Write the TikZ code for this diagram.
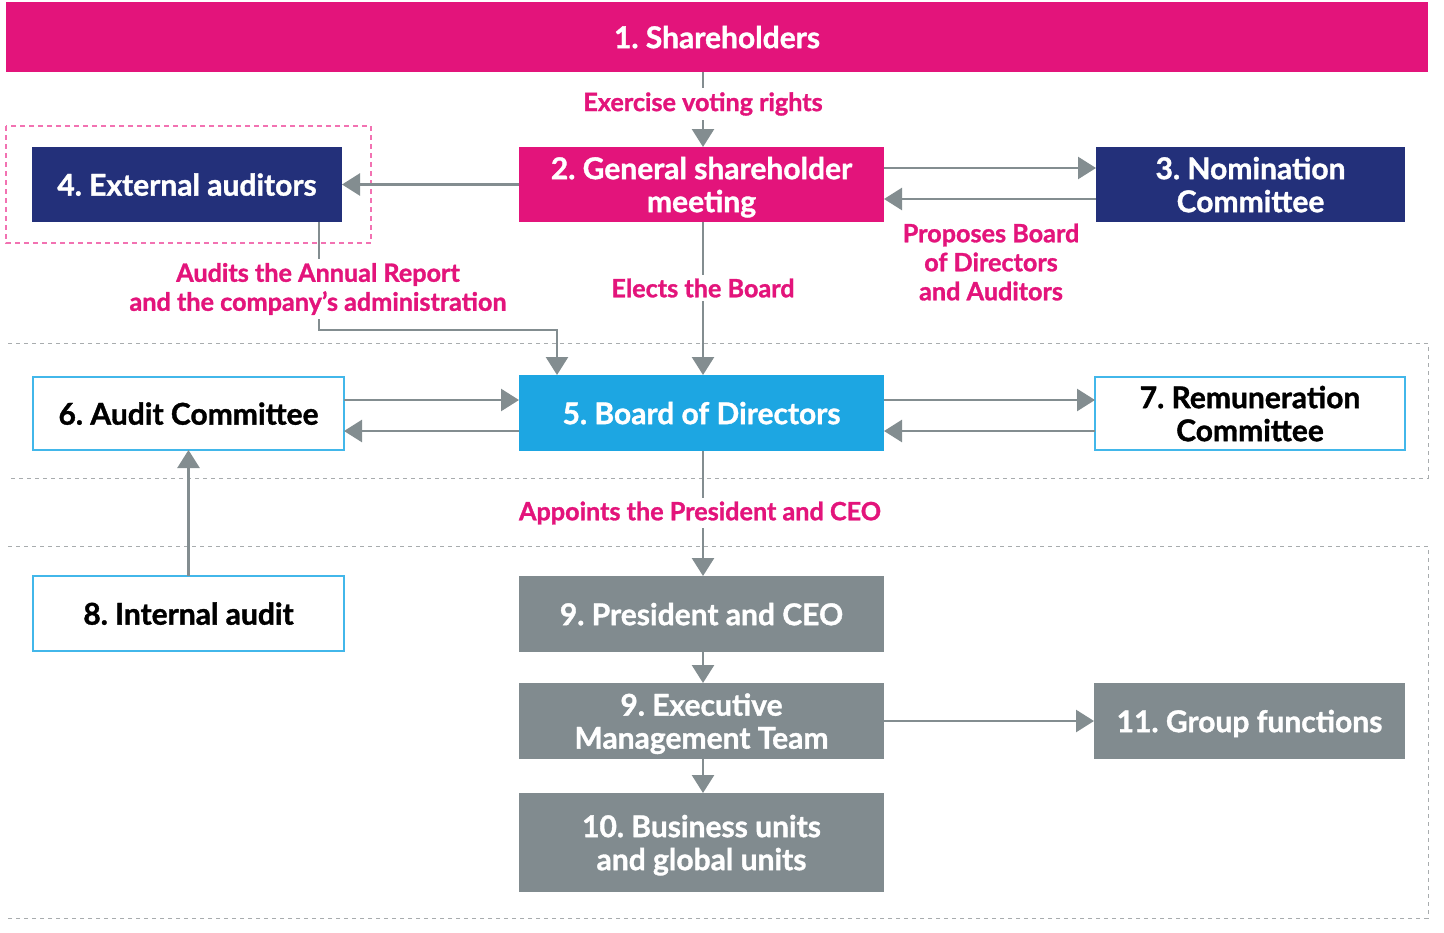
\documentclass[tikz,border=0pt]{standalone}
\usepackage{fontspec}
\setmainfont{Lato}[BoldFeatures={FakeBold=1.2}]
\usetikzlibrary{arrows.meta,calc}
\definecolor{cmag}{HTML}{E3147B}
\definecolor{cnavy}{HTML}{23307A}
\definecolor{ccyan}{HTML}{1DA6E2}
\definecolor{cgbox}{HTML}{818B8F}
\definecolor{carr}{HTML}{838D90}
\definecolor{cbord}{HTML}{42B7EA}
\definecolor{cdash}{HTML}{A8ACAE}
\definecolor{cpdash}{HTML}{F272B2}
\frenchspacing
\tikzset{
  box/.style={rectangle,inner sep=0pt,outer sep=0pt,align=center,text depth=0pt,font=\fontsize{15}{16.5}\selectfont\bfseries},
  magbox/.style={box,fill=cmag,text=white},
  navybox/.style={box,fill=cnavy,text=white},
  cyanbox/.style={box,fill=ccyan,text=white},
  graybox/.style={box,fill=cgbox,text=white},
  wbox/.style={box,fill=white,draw=cbord,line width=1pt,text=black},
  arr/.style={draw=carr,line width=1.3pt,-{Triangle[width=11pt,length=9pt]}},
  lbl/.style={text=cmag,font=\fontsize{12.6}{14.5}\selectfont\bfseries,align=center,inner sep=2pt},
  lblw/.style={lbl,fill=white},
  gdash/.style={draw=cdash,line width=0.5pt,dash pattern=on 2pt off 2pt},
  pdash/.style={draw=cpdash,line width=0.6pt,dash pattern=on 2.5pt off 2pt}
}
\begin{document}
\begin{tikzpicture}[x=0.5pt,y=-0.5pt]
\useasboundingbox (0,0) rectangle (1444,932);
% dashed frames
\draw[gdash] (8,343) -- (1428,343) -- (1428,478) -- (8,478);
\draw[gdash] (8,546) -- (1428,546) -- (1428,918) -- (8,918);
\draw[pdash] (6,126) rectangle (371,243);
% nodes
\node[magbox,minimum width=711pt,minimum height=35pt] (n1) at (717,37) {1. Shareholders};
\node[magbox,minimum width=182.5pt,minimum height=37.5pt] (n2) at (701.5,184.5) {2. General shareholder\\meeting};
\node[navybox,minimum width=154.5pt,minimum height=37.5pt] (n3) at (1250.5,184.5) {3. Nomination\\Committee};
\node[navybox,minimum width=155pt,minimum height=37.5pt] (n4) at (187,184.5) {4. External auditors};
\node[cyanbox,minimum width=182.5pt,minimum height=38pt] (n5) at (701.5,413) {5. Board of Directors};
\node[wbox,minimum width=155.5pt,minimum height=36.5pt] (n6) at (188.5,413.5) {6. Audit Committee};
\node[wbox,minimum width=155pt,minimum height=36.5pt] (n7) at (1250,413.5) {7. Remuneration\\Committee};
\node[wbox,minimum width=155.5pt,minimum height=37.5pt] (n8) at (188.5,613.5) {8. Internal audit};
\node[graybox,minimum width=182.5pt,minimum height=38pt] (n9) at (701.5,614) {9. President and CEO};
\node[graybox,minimum width=182.5pt,minimum height=38pt] (n9b) at (701.5,721) {9. Executive\\Management Team};
\node[graybox,minimum width=182.5pt,minimum height=49.5pt] (n10) at (701.5,842.5) {10. Business units\\and global units};
\node[graybox,minimum width=155.5pt,minimum height=38pt] (n11) at (1249.5,721) {11. Group functions};
% connectors
\draw[arr] (n1.south -| 703,0) -- (n2.north -| 703,0);
\node[lblw] (l1) at (703,104) {Exercise voting rights};
\draw[arr] (n2.west) -- (n4.east);
\draw[arr] (n2.east |- 0,168) -- (n3.west |- 0,168);
\draw[arr] (n3.west |- 0,199) -- (n2.east |- 0,199);
\node[lbl] (l2) at (991,262) {Proposes Board\\of Directors\\and Auditors};
\draw[arr] (n2.south -| 703,0) -- (n5.north -| 703,0);
\node[lblw] (l3) at (703,288) {Elects the Board};
\draw[arr] (n4.south -| 319,0) -- (319,330) -- (557,330) -- (n5.north -| 557,0);
\node[lblw] (l4) at (318,289) {Audits the Annual Report\\and the company’s administration};
\draw[arr] (n6.east |- 0,400) -- (n5.west |- 0,400);
\draw[arr] (n5.west |- 0,431) -- (n6.east |- 0,431);
\draw[arr] (n5.east |- 0,400) -- (n7.west |- 0,400);
\draw[arr] (n7.west |- 0,431) -- (n5.east |- 0,431);
\draw[arr] (n8.north) -- (n6.south);
\draw[arr] (n5.south -| 703,0) -- (n9.north -| 703,0);
\node[lblw] (l5) at (700,513) {Appoints the President and CEO};
\draw[arr] (n9.south -| 703,0) -- (n9b.north -| 703,0);
\draw[arr] (n9b.south -| 703,0) -- (n10.north -| 703,0);
\draw[arr] (n9b.east) -- (n11.west);
\end{tikzpicture}
\end{document}
